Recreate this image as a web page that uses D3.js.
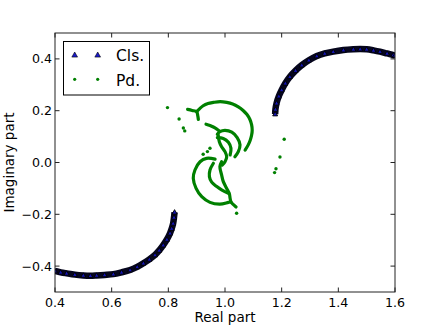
<html>
<head>
<meta charset="utf-8">
<title>Cls. vs Pd.</title>
<style>
  body { margin: 0; background: white; }
  text { font-family: "DejaVu Sans", sans-serif; fill: black; }
</style>
</head>
<body>
<svg id="chart" width="439" height="329"></svg>
<script src="https://cdnjs.cloudflare.com/ajax/libs/d3/7.8.5/d3.min.js"></script>
<script>
// tick values
var xTicks = [0.4, 0.6, 0.8, 1.0, 1.2, 1.4, 1.6];
var yTicks = [-0.4, -0.2, 0.0, 0.2, 0.4];

// Cls. series (blue triangles), two arcs
var clsLower = [[0.400,-0.419],[0.420,-0.424],[0.441,-0.428],[0.470,-0.433],[0.500,-0.436],[0.525,-0.437],
  [0.547,-0.436],[0.575,-0.434],[0.606,-0.431],[0.635,-0.424],[0.665,-0.415],[0.690,-0.403],[0.712,-0.389],
  [0.733,-0.374],[0.753,-0.357],[0.768,-0.339],[0.782,-0.319],[0.795,-0.297],[0.806,-0.273],[0.812,-0.255],
  [0.817,-0.235],[0.820,-0.212],[0.822,-0.192]];
var clsUpper = [[1.177,0.187],[1.178,0.205],[1.182,0.229],[1.190,0.256],[1.200,0.280],[1.213,0.306],
  [1.229,0.331],[1.249,0.355],[1.271,0.376],[1.296,0.395],[1.324,0.411],[1.352,0.421],[1.382,0.428],
  [1.418,0.434],[1.453,0.437],[1.477,0.438],[1.500,0.437],[1.524,0.433],[1.547,0.428],[1.572,0.421],
  [1.594,0.415],[1.600,0.413]];

// Pd. series (green dots), arcs near 1+0i
var pdBranch = [[0.868,0.205],[0.884,0.201],[0.900,0.196],[0.904,0.180],[0.906,0.166]];
var pdBigUpper = [[0.900,0.196],[0.923,0.219],[0.940,0.228],[0.959,0.232],[0.983,0.235],[1.006,0.232],
  [1.027,0.226],[1.047,0.215],[1.064,0.201],[1.077,0.186],[1.088,0.166],[1.094,0.145],[1.096,0.125],
  [1.094,0.106],[1.089,0.086],[1.082,0.068],[1.071,0.048]];
var pdMidLead = [[0.933,0.148],[0.947,0.143],[0.959,0.137],[0.970,0.130],[0.980,0.122]];
var pdMidCircle = [[0.973,0.109],[0.982,0.119],[1.000,0.124],[1.024,0.117],[1.043,0.096],[1.053,0.068],
  [1.047,0.042],[1.035,0.022]];
var pdSmallArc = [[0.973,0.096],[0.994,0.093],[1.012,0.078],[1.021,0.055],[1.018,0.029]];
var pdSpine = [[0.976,0.106],[0.980,0.080],[0.988,0.061],[1.000,0.042],[1.006,0.022],[1.000,0.003],
  [0.990,-0.010]];
var pdLowerSpine = [[0.988,0.003],[0.982,-0.016],[0.988,-0.048],[0.994,-0.074],[1.006,-0.100],
  [1.015,-0.119],[1.018,-0.138],[1.021,-0.152],[1.030,-0.163],[1.039,-0.172]];
var pdLowerBig = [[0.965,0.013],[0.935,0.016],[0.912,0.003],[0.894,-0.029],[0.888,-0.061],[0.898,-0.100],
  [0.918,-0.132],[0.947,-0.154],[0.982,-0.161],[1.012,-0.154],[1.021,-0.152]];
var pdCrescent = [[0.959,-0.003],[0.947,-0.029],[0.945,-0.055],[0.953,-0.076],[0.971,-0.093],
  [0.988,-0.106],[1.012,-0.119]];
var pdDots = [[0.797,0.212],[0.838,0.168],[0.853,0.133],[0.858,0.122],[0.923,0.032],[0.938,0.042],
  [0.947,0.055],[1.209,0.090],[1.194,0.021],[1.180,-0.024],[1.175,-0.039],[1.041,-0.196]];

var clsArcs = [clsLower, clsUpper];
var pdArcs = [pdBranch, pdBigUpper, pdMidLead, pdMidCircle, pdSmallArc, pdSpine, pdLowerSpine, pdLowerBig, pdCrescent];

var svg = d3.select("#chart");
var margin = {top: 33, left: 55, right: 44, bottom: 37},
    width = 439, height = 329;

var x = d3.scaleLinear().domain([0.4, 1.6]).range([margin.left, width - margin.right]);
var y = d3.scaleLinear().domain([-0.5, 0.5]).range([height - margin.bottom, margin.top]);

svg.append("clipPath").attr("id", "plotclip")
  .append("rect").attr("x", margin.left).attr("y", margin.top)
  .attr("width", x.range()[1] - margin.left).attr("height", y.range()[0] - margin.top);

var plot = svg.append("g").attr("clip-path", "url(#plotclip)");
var line = d3.line().x(function(d){ return x(d[0]); }).y(function(d){ return y(d[1]); })
  .curve(d3.curveCatmullRom);

function tri(s) { return "M0," + (-s) + "L" + (s*0.95) + "," + (s*0.7) + "L" + (-s*0.95) + "," + (s*0.7) + "Z"; }

// green Pd. arcs
plot.selectAll("path.pd").data(pdArcs).enter().append("path")
  .attr("class", "pd").attr("d", line)
  .attr("fill", "none").attr("stroke", "#008000").attr("stroke-width", 3.2).attr("stroke-linecap", "round");
plot.selectAll("circle.pd").data(pdDots).enter().append("circle")
  .attr("class", "pd").attr("cx", function(d){ return x(d[0]); }).attr("cy", function(d){ return y(d[1]); })
  .attr("r", 1.7).attr("fill", "#008000");

// blue Cls. arcs: dark band + triangles
plot.selectAll("path.clsband").data(clsArcs).enter().append("path")
  .attr("class", "clsband").attr("d", line)
  .attr("fill", "none").attr("stroke", "#06061e").attr("stroke-width", 6.5).attr("stroke-linecap", "butt");
clsArcs.forEach(function(arc) {
  plot.append("g").selectAll("path").data(arc).enter().append("path")
    .attr("d", tri(2.6))
    .attr("transform", function(d){ return "translate(" + x(d[0]) + "," + y(d[1]) + ")"; })
    .attr("fill", "#1414b4").attr("stroke", "#000").attr("stroke-width", 0.9);
});

// frame and ticks
var x0 = margin.left, x1 = x.range()[1], y0 = margin.top, y1 = y.range()[0];
svg.append("rect").attr("x", x0).attr("y", y0).attr("width", x1 - x0).attr("height", y1 - y0)
  .attr("fill", "none").attr("stroke", "#222").attr("stroke-width", 1);

var fmt = function(v){ return d3.format(".1f")(v).replace("-", "\u2212"); };
xTicks.forEach(function(t){
  var px = x(t);
  svg.append("line").attr("x1", px).attr("x2", px).attr("y1", y1).attr("y2", y1 - 4.5).attr("stroke", "#222");
  svg.append("line").attr("x1", px).attr("x2", px).attr("y1", y0).attr("y2", y0 + 4.5).attr("stroke", "#222");
  svg.append("text").attr("x", px).attr("y", 306.5).attr("text-anchor", "middle")
    .style("font-size", "12.6px").text(fmt(t));
});
yTicks.forEach(function(t){
  var py = y(t);
  svg.append("line").attr("x1", x0).attr("x2", x0 + 4.5).attr("y1", py).attr("y2", py).attr("stroke", "#222");
  svg.append("line").attr("x1", x1).attr("x2", x1 - 4.5).attr("y1", py).attr("y2", py).attr("stroke", "#222");
  svg.append("text").attr("x", 52).attr("y", py).attr("dy", "0.36em").attr("text-anchor", "end")
    .style("font-size", "12.6px").text(fmt(t));
});

svg.append("text").attr("x", (x0 + x1) / 2).attr("y", 322).attr("text-anchor", "middle")
  .style("font-size", "13.5px").text("Real part");
svg.append("text").attr("transform", "translate(14," + ((y0 + y1) / 2) + ") rotate(-90)")
  .attr("text-anchor", "middle").style("font-size", "13.5px").text("Imaginary part");

// legend
var legend = svg.append("g");
legend.append("rect").attr("x", 63.5).attr("y", 41.5).attr("width", 86).attr("height", 53.5)
  .attr("fill", "white").attr("stroke", "#000").attr("stroke-width", 1);
[74.7, 97.7].forEach(function(lx){
  legend.append("path").attr("d", tri(3))
    .attr("transform", "translate(" + lx + ",55)")
    .attr("fill", "#1a1acc").attr("stroke", "#000").attr("stroke-width", 0.6);
  legend.append("circle").attr("cx", lx).attr("cy", 79.3).attr("r", 1.6).attr("fill", "#008000");
});
legend.append("text").attr("x", 116).attr("y", 61).style("font-size", "15.5px").text("Cls.");
legend.append("text").attr("x", 116).attr("y", 86).style("font-size", "15.5px").text("Pd.");
</script>
</body>
</html>
